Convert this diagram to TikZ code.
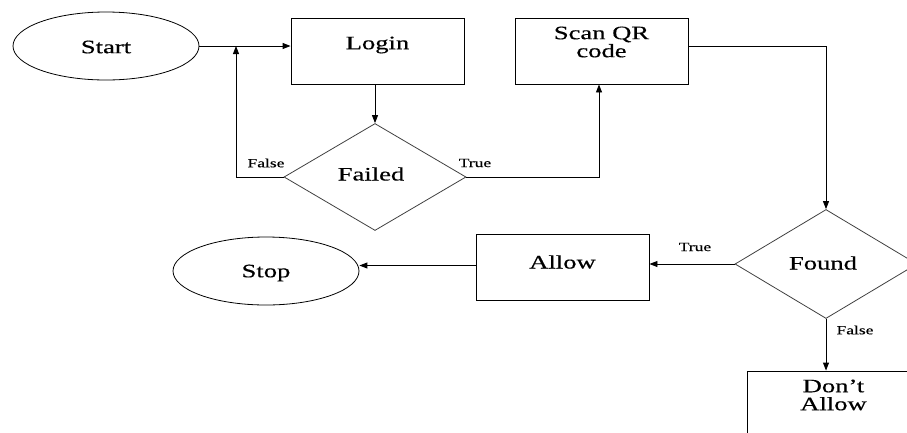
\documentclass[tikz,border=0pt]{standalone}
\usepackage{fontspec}
\setmainfont{Liberation Serif}
\newfontfamily\wideserif[FakeStretch=1.4,FakeBold=0.4]{Liberation Serif}
\usetikzlibrary{shapes.geometric,arrows.meta}
\tikzset{
  every node/.style={inner sep=0pt},
  ell/.style={draw, ellipse, line width=0.8pt, minimum width=186pt, minimum height=68pt},
  box/.style={draw, rectangle, line width=0.9pt, minimum width=173pt, minimum height=66pt},
  dia/.style={draw=black!75, diamond, line width=0.8pt, minimum width=182pt, minimum height=107pt, aspect=1.7},
  big/.style={font=\wideserif\fontsize{19}{21}\selectfont, align=center},
  small/.style={font=\wideserif\fontsize{12.5}{14}\selectfont},
  conn/.style={line width=0.9pt, -{Triangle[length=8pt,width=6pt]}},
  plain/.style={line width=0.9pt}
}
\begin{document}
\begin{tikzpicture}[x=1pt,y=-1pt]
\useasboundingbox (0,0) rectangle (907,432);
\begin{scope}
\clip (0,0) rectangle (907,432);
% shapes
\node[ell] (start) at (106,46) {};
\node[big] (tstart) at (106,47) {Start};
\node[box] (login) at (377.5,51) {};
\node[big] (tlogin) at (377.5,45) {Login};
\node[box] (scan) at (601.5,51) {};
\node[big] (tscan) at (601.5,42) {Scan QR\\[-3pt]code};
\node[dia] (failed) at (375,177) {};
\node[big] (tfailed) at (371,174) {Failed};
\node[dia, minimum height=109pt] (found) at (826,264) {};
\node[big] (tfound) at (823,263) {Found};
\node[box] (allow) at (562.5,267.5) {};
\node[big] (tallow) at (562.5,262) {Allow};
\node[ell] (stop) at (266,271) {};
\node[big] (tstop) at (266,273) {Stop};
\node[box] (dont) at (833.5,404) {};
\node[big] (tdont) at (833.5,395) {Don’t\\[-3pt]Allow};
% connectors
\coordinate (loop) at (236,46);
\draw[conn] (start.east) -- (start.east -| login.west);
\draw[conn] (failed.north |- login.south) -- (failed.north);
\draw[conn] (failed.west) -| (loop);
\draw[conn] (failed.east) -| (scan.south -| 599,0);
\draw[conn] ([yshift=5pt]scan.east) -| (found.north);
\draw[conn] (found.west) -- (found.west -| allow.east);
\draw[conn] ([yshift=2pt]allow.west) -- ([yshift=2pt]allow.west -| stop.east);
\draw[conn] (found.south) -- (found.south |- dont.north);
% labels
\node[small] (lf1) at (266,163) {False};
\node[small] (lt1) at (475,163) {True};
\node[small] (lt2) at (695,247) {True};
\node[small] (lf2) at (855,330) {False};
\end{scope}
\end{tikzpicture}
\end{document}
